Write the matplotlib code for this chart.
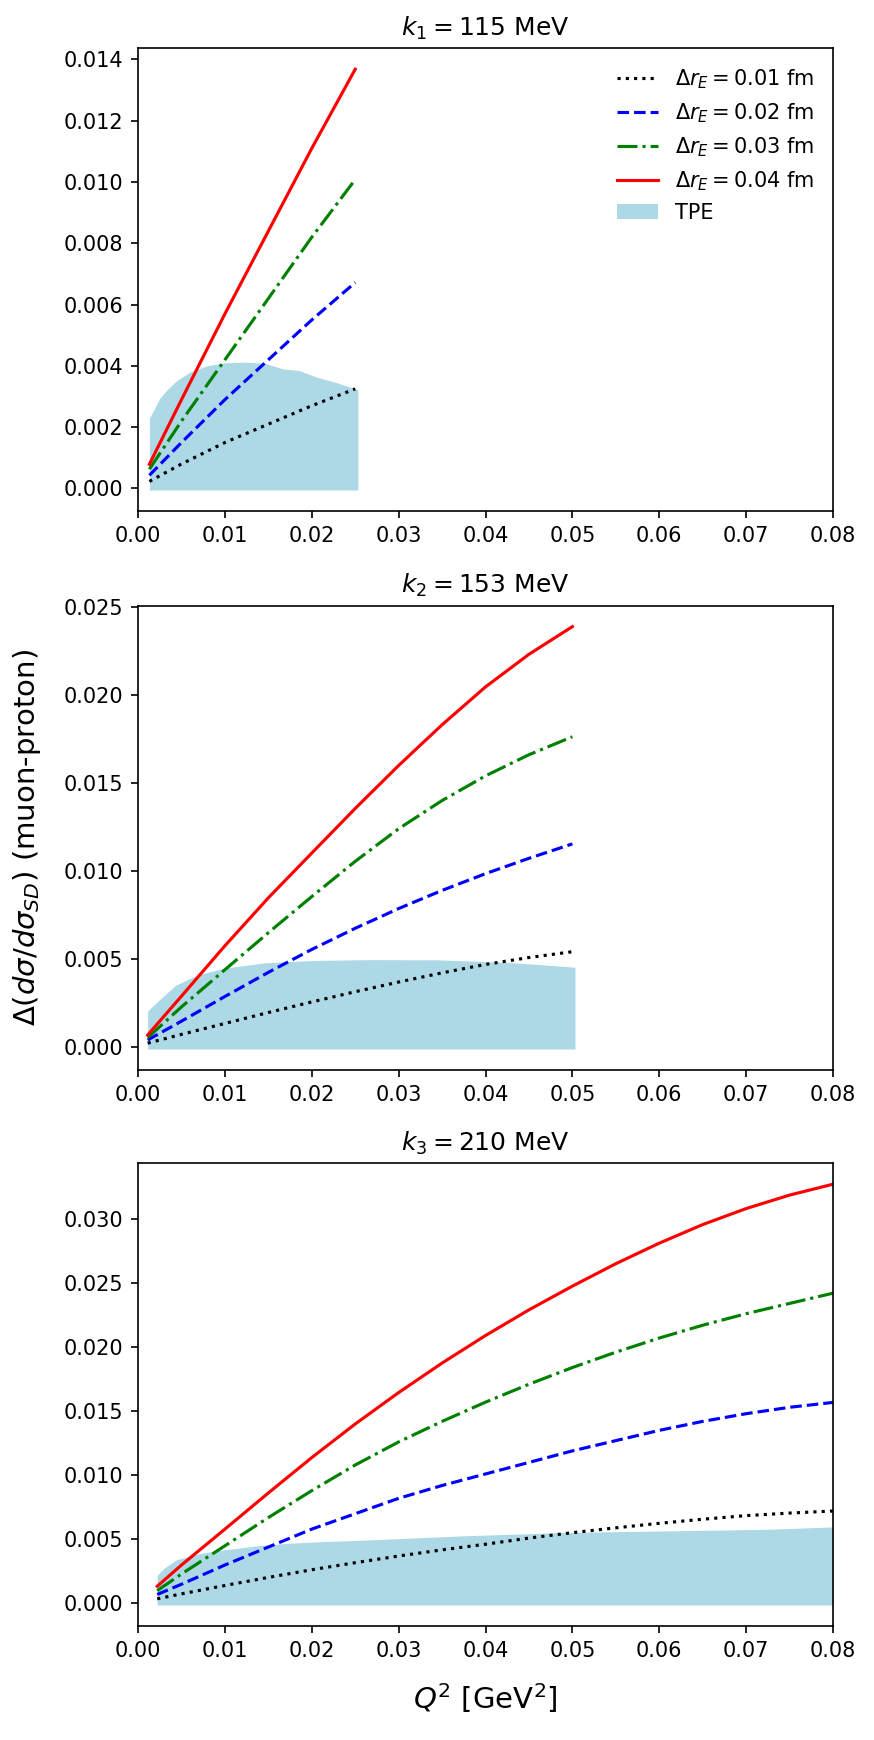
import matplotlib
matplotlib.use("Agg")
import matplotlib.pyplot as plt

# k1 = 115 MeV
q1 = [0.0013, 0.005, 0.010, 0.015, 0.020, 0.025]
k1_r01 = [0.00023, 0.0008, 0.0015, 0.0021, 0.0027, 0.00325]
k1_r02 = [0.00043, 0.0015, 0.0029, 0.0042, 0.0055, 0.00672]
k1_r03 = [0.00063, 0.0022, 0.0042, 0.0062, 0.0082, 0.01008]
k1_r04 = [0.00079, 0.0029, 0.0057, 0.0084, 0.0111, 0.01368]
tq1 = [0.0013, 0.002, 0.0025, 0.0033, 0.0045, 0.006, 0.008, 0.010, 0.012,
       0.0145, 0.0167, 0.0185, 0.0205, 0.023, 0.0253]
tpe1_lo = [-0.00005] * len(tq1)
tpe1_hi = [0.00229, 0.00267, 0.00294, 0.00321, 0.00353, 0.0038, 0.00401, 0.0041,
           0.00412, 0.00409, 0.0039, 0.00385, 0.00364, 0.00344, 0.00322]

# k2 = 153 MeV
q2 = [0.0011, 0.005, 0.010, 0.015, 0.020, 0.025, 0.030, 0.035, 0.040, 0.045, 0.050]
k2_r01 = [0.00023, 0.00073, 0.00135, 0.00197, 0.00257, 0.00315, 0.0037, 0.00422,
          0.0047, 0.00509, 0.00542]
k2_r02 = [0.00041, 0.00148, 0.00288, 0.00425, 0.00555, 0.00675, 0.00787, 0.0089,
          0.00985, 0.01072, 0.01154]
k2_r03 = [0.00054, 0.00229, 0.0044, 0.0065, 0.00855, 0.01055, 0.0124, 0.0140,
          0.0154, 0.0166, 0.01762]
k2_r04 = [0.00069, 0.0029, 0.00576, 0.00848, 0.01102, 0.01355, 0.01599, 0.0183,
          0.02045, 0.0223, 0.02387]
tq2 = [0.0011, 0.0024, 0.0043, 0.0067, 0.0099, 0.0146, 0.020, 0.0265, 0.0344,
       0.0423, 0.0462, 0.0503]
tpe2_lo = [-0.0001] * len(tq2)
tpe2_hi = [0.00205, 0.00267, 0.00351, 0.00407, 0.00449, 0.00479, 0.00492, 0.00497,
           0.00496, 0.00482, 0.00469, 0.00454]

# k3 = 210 MeV
q3 = [0.0022, 0.005, 0.010, 0.015, 0.020, 0.025, 0.030, 0.035, 0.040, 0.045,
      0.050, 0.055, 0.060, 0.065, 0.070, 0.075, 0.080]
k3_r01 = [0.00036, 0.00075, 0.0014, 0.00203, 0.00263, 0.00318, 0.0037, 0.00418,
          0.00462, 0.0051, 0.00552, 0.0059, 0.00625, 0.00657, 0.00685, 0.00705, 0.00721]
k3_r02 = [0.0007, 0.0015, 0.0030, 0.0044, 0.0058, 0.0070, 0.0082, 0.0092, 0.0101,
          0.0110, 0.0119, 0.0127, 0.0135, 0.0142, 0.0148, 0.0153, 0.01568]
k3_r03 = [0.001, 0.0023, 0.0045, 0.0067, 0.0088, 0.0108, 0.0126, 0.0142, 0.0157,
          0.0171, 0.0184, 0.0196, 0.0207, 0.0217, 0.0226, 0.0234, 0.0242]
k3_r04 = [0.00134, 0.0030, 0.0058, 0.00862, 0.01138, 0.0140, 0.01645, 0.01875,
          0.0209, 0.0229, 0.02475, 0.0265, 0.0281, 0.02955, 0.0308, 0.03185, 0.0327]
tq3 = [0.0022, 0.003, 0.0044, 0.006, 0.0073, 0.0095, 0.0114, 0.014, 0.0173, 0.021,
       0.026, 0.0377, 0.0494, 0.0611, 0.0728, 0.080]
tpe3_lo = [-0.00012] * len(tq3)
tpe3_hi = [0.00219, 0.00275, 0.0034, 0.0037, 0.00391, 0.00415, 0.0043, 0.00452,
           0.00469, 0.00482, 0.00494, 0.00528, 0.00554, 0.00566, 0.00579, 0.00597]

titles = [r"$k_1 = 115$ MeV", r"$k_2 = 153$ MeV", r"$k_3 = 210$ MeV"]
dr_labels = [r"$\Delta r_E = 0.01$ fm", r"$\Delta r_E = 0.02$ fm",
             r"$\Delta r_E = 0.03$ fm", r"$\Delta r_E = 0.04$ fm"]
styles = [("k", ":"), ("b", "--"), ("g", "-."), ("r", "-")]

panels = [
    (q1, [k1_r01, k1_r02, k1_r03, k1_r04], tq1, tpe1_lo, tpe1_hi),
    (q2, [k2_r01, k2_r02, k2_r03, k2_r04], tq2, tpe2_lo, tpe2_hi),
    (q3, [k3_r01, k3_r02, k3_r03, k3_r04], tq3, tpe3_lo, tpe3_hi),
]

fig = plt.figure(figsize=(874 / 150, 1740 / 150), dpi=150)
boxes = [[0.158, 0.7063, 0.795, 0.266],
         [0.158, 0.3850, 0.795, 0.267],
         [0.158, 0.0655, 0.795, 0.266]]

axes = []
for i, (q, curves, tq, lo, hi) in enumerate(panels):
    ax = fig.add_axes(boxes[i])
    for (c, ls), ys, lab in zip(styles, curves, dr_labels):
        ax.plot(q, ys, color=c, linestyle=ls, label=lab)
    ax.fill_between(tq, lo, hi, color="lightblue", linewidth=0, label="TPE")
    ax.set_xlim(0, 0.08)
    ax.set_title(titles[i], fontsize=12)
    axes.append(ax)

axes[0].legend(loc="upper right", frameon=False)
axes[1].set_ylabel(r"$\Delta(d\sigma/d\sigma_{SD})$ (muon-proton)", fontsize=14, labelpad=10)
axes[2].set_xlabel(r"$Q^2$ [GeV$^2$]", fontsize=14, labelpad=10)

fig.savefig("out.png", dpi=150)
